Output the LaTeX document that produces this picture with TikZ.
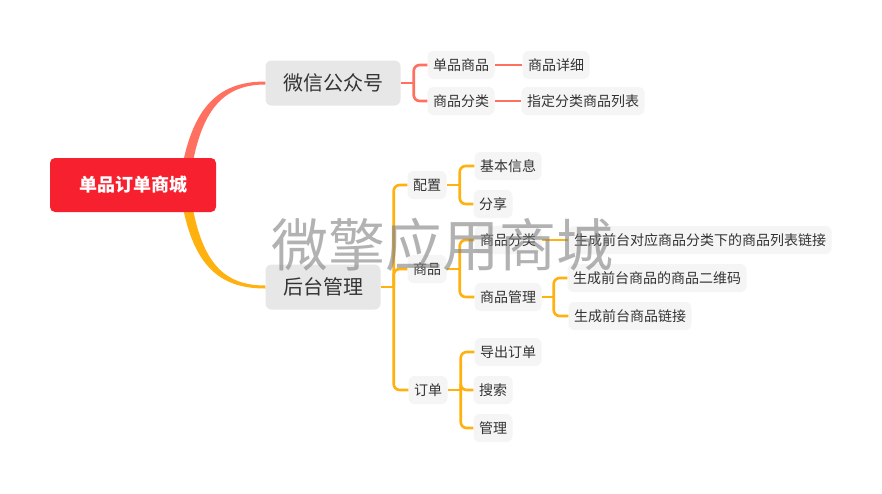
\documentclass[tikz,border=0pt]{standalone}
\usepackage{fontspec}
\setmainfont{Noto Sans CJK SC}
\usetikzlibrary{calc}

\definecolor{rootred}{HTML}{F7202F}
\definecolor{coral}{HTML}{FF7060}
\definecolor{amber}{HTML}{FFB20F}
\definecolor{mainfill}{HTML}{E7E7E7}
\definecolor{subfill}{HTML}{F5F5F5}
\definecolor{txt}{HTML}{333333}

\tikzset{
    rootbox/.style={fill=rootred, text=white, rounded corners=5pt, minimum width=166pt, minimum height=54pt,
        font=\fontsize{18}{20}\selectfont\bfseries},
    mainbox/.style={fill=mainfill, text=txt, rounded corners=6pt, inner xsep=17.5pt, minimum height=45pt,
        font=\fontsize{20}{22}\selectfont},
    subbox/.style={fill=subfill, text=txt, rounded corners=6pt, inner xsep=5.5pt, minimum height=28pt,
        font=\fontsize{14}{16}\selectfont},
    wxline/.style={draw=coral, line width=2.6pt},
    htline/.style={draw=amber, line width=2.6pt},
}

\begin{document}
\begin{tikzpicture}[x=1pt, y=-1pt]

    \useasboundingbox[fill=white] (0,0) rectangle (882,493);

    % main branches
    \node[mainbox] (wx) at (333,83) {微信公众号};
    \node[mainbox] (ht) at (323,287) {后台管理};

    \fill[coral] ($(wx.west)+(-86,102)$) .. controls +(10,-77) and +(-48,0) .. ($(wx.west)+(0,-1.5)$)
        -- ($(wx.west)+(0,1.5)$) .. controls +(-44,0) and +(9,-73) .. ($(wx.west)+(-76,102)$) -- cycle;
    \fill[amber] ($(ht.west)+(-86,-102)$) .. controls +(10,79) and +(-48,0) .. ($(ht.west)+(0,1.5)$)
        -- ($(ht.west)+(0,-1.5)$) .. controls +(-44,0) and +(9,75) .. ($(ht.west)+(-76,-102)$) -- cycle;

    % root
    \node[rootbox] (root) at (133,185) {单品订单商城};

    % 微信公众号 branch
    \node[subbox] (dpsp) at (461,65) {单品商品};
    \node[subbox] (spfl) at (461,101) {商品分类};
    \node[subbox] (spxx) at (556,65) {商品详细};
    \node[subbox] (zdfl) at (583,101) {指定分类商品列表};

    \coordinate (wxb) at ($(wx.east)+(13,0)$);
    \draw[wxline] (wx.east) -- (wxb);
    \foreach \c in {dpsp, spfl} \draw[wxline, rounded corners=6pt] (wxb) |- (\c.west);
    \draw[wxline] (dpsp.east) -- (spxx.west);
    \draw[wxline] (spfl.east) -- (zdfl.west);

    % 后台管理 branch
    \node[subbox] (pz) at (427,185) {配置};
    \node[subbox] (sp) at (427,269) {商品};
    \node[subbox] (dd) at (428,390) {订单};

    \coordinate (htb) at ($(ht.east)+(13,0)$);
    \draw[htline] (ht.east) -- (htb);
    \foreach \c in {pz, sp, dd} \draw[htline, rounded corners=6pt] (htb) |- (\c.west);

    % 配置
    \node[subbox] (jbxx) at (508,166) {基本信息};
    \node[subbox] (fx) at (493,204) {分享};
    \coordinate (pzb) at ($(pz.east)+(13,0)$);
    \draw[htline] (pz.east) -- (pzb);
    \foreach \c in {jbxx, fx} \draw[htline, rounded corners=6pt] (pzb) |- (\c.west);

    % 商品
    \node[subbox] (spfl2) at (508,240) {商品分类};
    \node[subbox] (spgl) at (508,297) {商品管理};
    \node[subbox] (lblj) at (700,240) {生成前台对应商品分类下的商品列表链接};
    \node[subbox] (ewm) at (657,278) {生成前台商品的商品二维码};
    \node[subbox] (splj) at (630,316) {生成前台商品链接};
    \coordinate (spb) at ($(sp.east)+(13,0)$);
    \draw[htline] (sp.east) -- (spb);
    \foreach \c in {spfl2, spgl} \draw[htline, rounded corners=6pt] (spb) |- (\c.west);
    \draw[htline] (spfl2.east) -- (lblj.west);
    \coordinate (spglb) at ($(spgl.east)+(12,0)$);
    \draw[htline] (spgl.east) -- (spglb);
    \foreach \c in {ewm, splj} \draw[htline, rounded corners=6pt] (spglb) |- (\c.west);

    % 订单
    \node[subbox] (dcdd) at (508,352) {导出订单};
    \node[subbox] (ss) at (493,390) {搜索};
    \node[subbox] (gl) at (493,428) {管理};
    \coordinate (ddb) at ($(dd.east)+(13,0)$);
    \draw[htline] (dd.east) -- (ddb);
    \foreach \c in {dcdd, ss, gl} \draw[htline, rounded corners=6pt] (ddb) |- (\c.west);

    % watermark
    \node[text=gray, opacity=0.6, font=\fontsize{57}{60}\selectfont] (wm) at (442,245) {微擎应用商城};

\end{tikzpicture}
\end{document}
